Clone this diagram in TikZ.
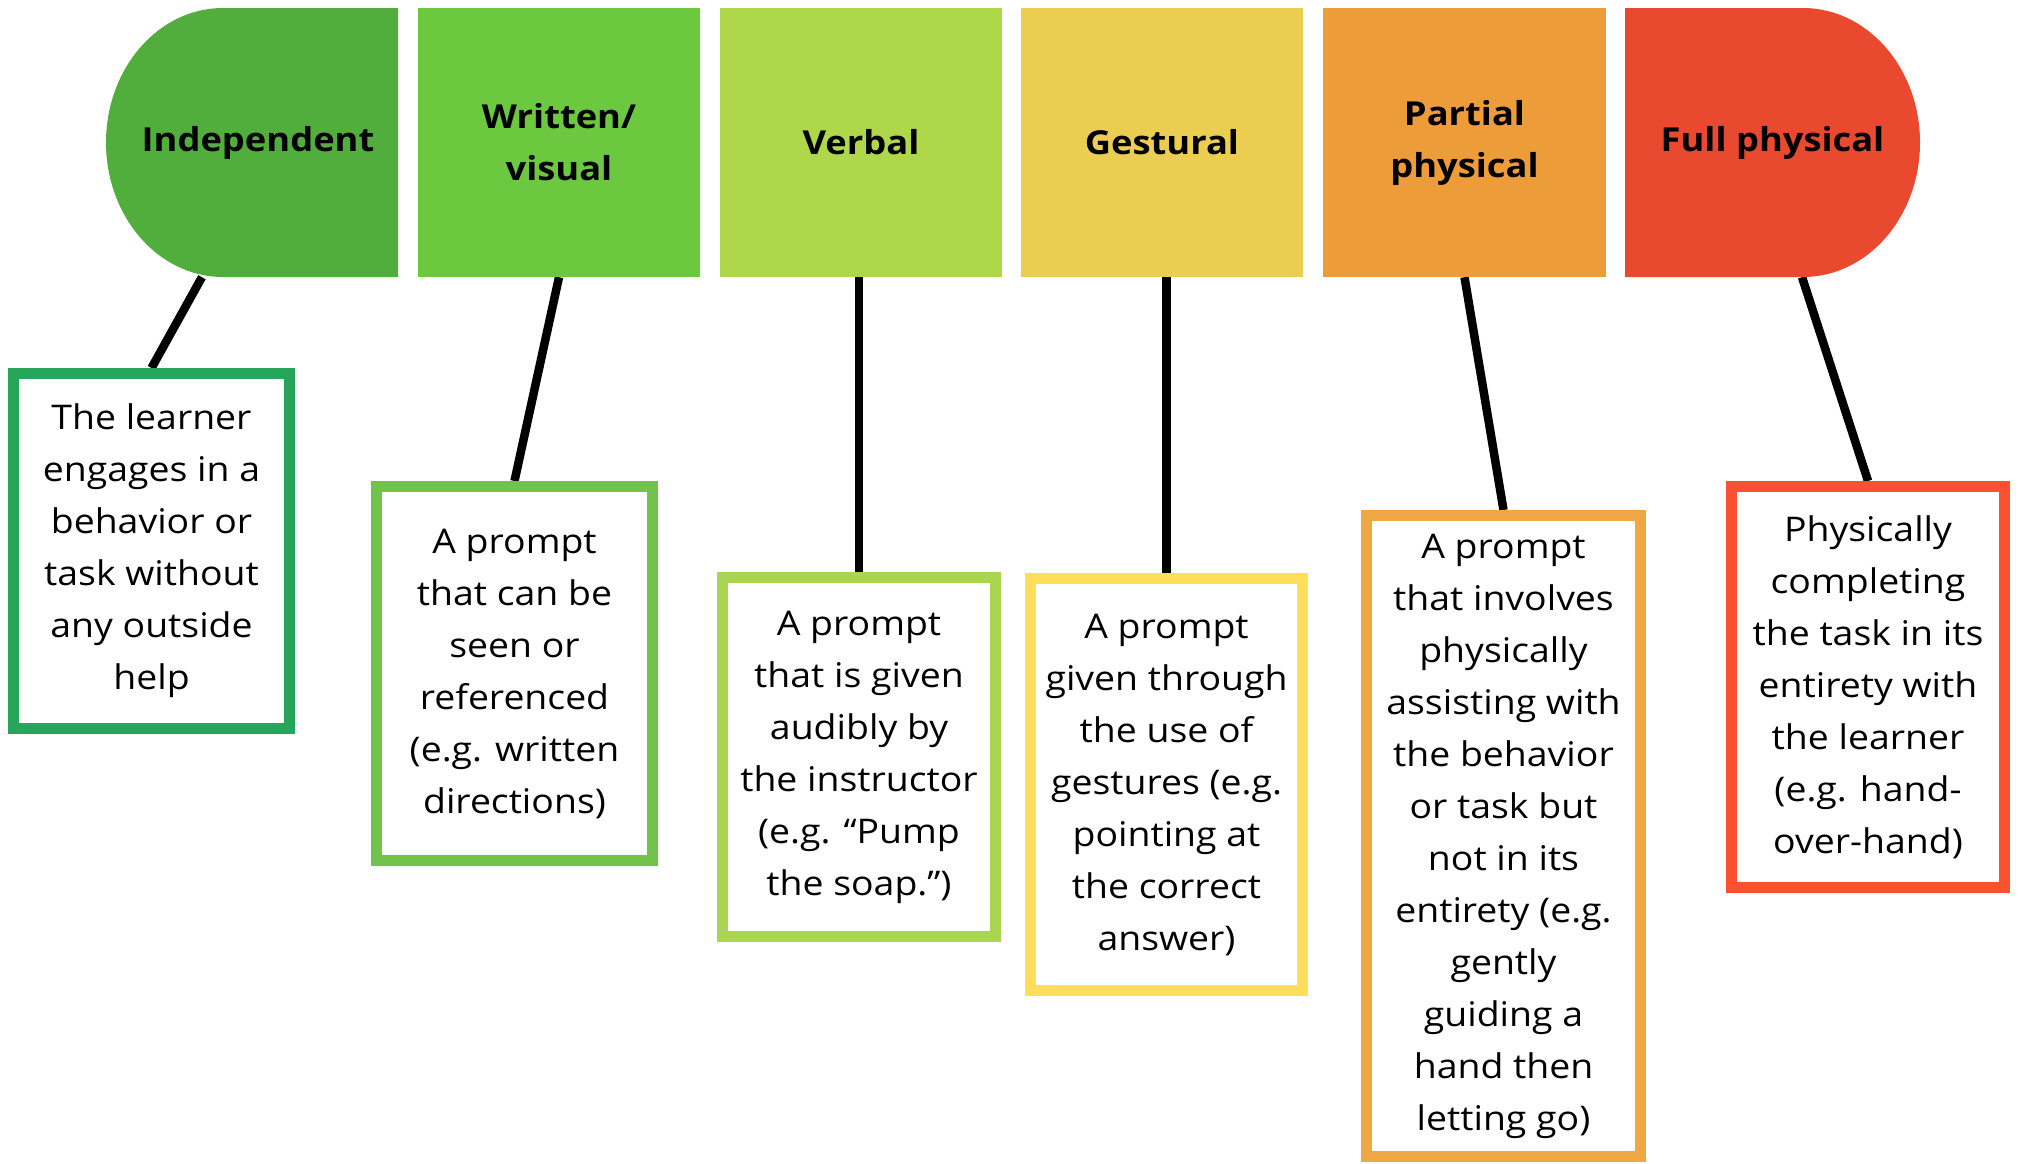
\documentclass[tikz,border=0pt]{standalone}
\usepackage{fontspec}
\setmainfont{Open Sans}[FakeStretch=1.1]
\usetikzlibrary{calc,backgrounds}
\definecolor{hA}{HTML}{52AE3C}
\definecolor{hB}{HTML}{6BC83F}
\definecolor{hC}{HTML}{AED84A}
\definecolor{hD}{HTML}{EBCE51}
\definecolor{hE}{HTML}{EC9D3A}
\definecolor{hF}{HTML}{E9492E}
\definecolor{bA}{HTML}{27A55B}
\definecolor{bB}{HTML}{72C34A}
\definecolor{bC}{HTML}{A9D551}
\definecolor{bD}{HTML}{FFDE59}
\definecolor{bE}{HTML}{F0A844}
\definecolor{bF}{HTML}{FA5130}
\begin{document}
\begin{tikzpicture}[x=1pt,y=-1pt,
  head/.style={minimum height=269pt, inner sep=0pt, text=black,
    font=\bfseries\fontsize{33}{52}\selectfont, align=center},
  desc/.style={draw, line width=11pt, fill=white, inner sep=0pt, text=black,
    font=\fontsize{34}{52}\selectfont, align=center},
  link/.style={line width=8.5pt, draw=black}]
\useasboundingbox (0,0) rectangle (2019,1163);

% rounded end shapes
\fill[hA] (398,8) -- (398,277) -- (223,277)
  arc[start angle=90, end angle=270, x radius=117, y radius=134.5] -- cycle;
\fill[hF] (1625,8) -- (1803,8)
  arc[start angle=270, end angle=450, x radius=117, y radius=134.5]
  -- (1625,277) -- cycle;

% header nodes
\node[head, minimum width=280pt] (h1) at (258,142.5) {Independent};
\node[head, fill=hB, minimum width=282pt] (h2) at (559,142.5) {Written/\\visual};
\node[head, fill=hC, minimum width=282pt] (h3) at (861,142.5) {Verbal};
\node[head, fill=hD, minimum width=282pt] (h4) at (1162,142.5) {Gestural};
\node[head, fill=hE, minimum width=283pt] (h5) at (1464.5,142.5) {Partial\\physical};
\node[head, minimum width=295pt] (h6) at (1772.5,142.5) {Full physical};

% description nodes
\node[desc, draw=bA, minimum width=276pt, minimum height=355pt] (d1) at (151.5,551)
  {The learner\\engages in a\\behavior or\\task without\\any outside\\help};
\node[desc, draw=bB, minimum width=276pt, minimum height=374pt] (d2) at (514.5,673.5)
  {A prompt\\that can be\\seen or\\referenced\\(e.g. written\\directions)};
\node[desc, draw=bC, minimum width=273pt, minimum height=359pt] (d3) at (859,757)
  {A prompt\\that is given\\audibly by\\the instructor\\(e.g. “Pump\\the soap.”)};
\node[desc, draw=bD, minimum width=272pt, minimum height=412pt] (d4) at (1166.5,784.5)
  {A prompt\\given through\\the use of\\gestures (e.g.\\pointing at\\the correct\\answer)};
\node[desc, draw=bE, minimum width=274pt, minimum height=641pt] (d5) at (1503.5,836)
  {A prompt\\that involves\\physically\\assisting with\\the behavior\\or task but\\not in its\\entirety (e.g.\\gently\\guiding a\\hand then\\letting go)};
\node[desc, draw=bF, minimum width=273pt, minimum height=401pt] (d6) at (1868,687)
  {Physically\\completing\\the task in its\\entirety with\\the learner\\(e.g. hand-\\over-hand)};

% connectors
\begin{scope}[on background layer]
\draw[link] ($(h1.south west)!0.30!(h1.south east)$) -- (d1.north);
\draw[link] (h2.south) -- (d2.north);
\draw[link] (h3.south -| d3.north) -- (d3.north);
\draw[link] (h4.south -| d4.north) -- (d4.north);
\draw[link] (h5.south) -- (d5.north);
\draw[link] ($(h6.south west)!0.6!(h6.south east)$) -- (d6.north);
\end{scope}
\end{tikzpicture}
\end{document}
